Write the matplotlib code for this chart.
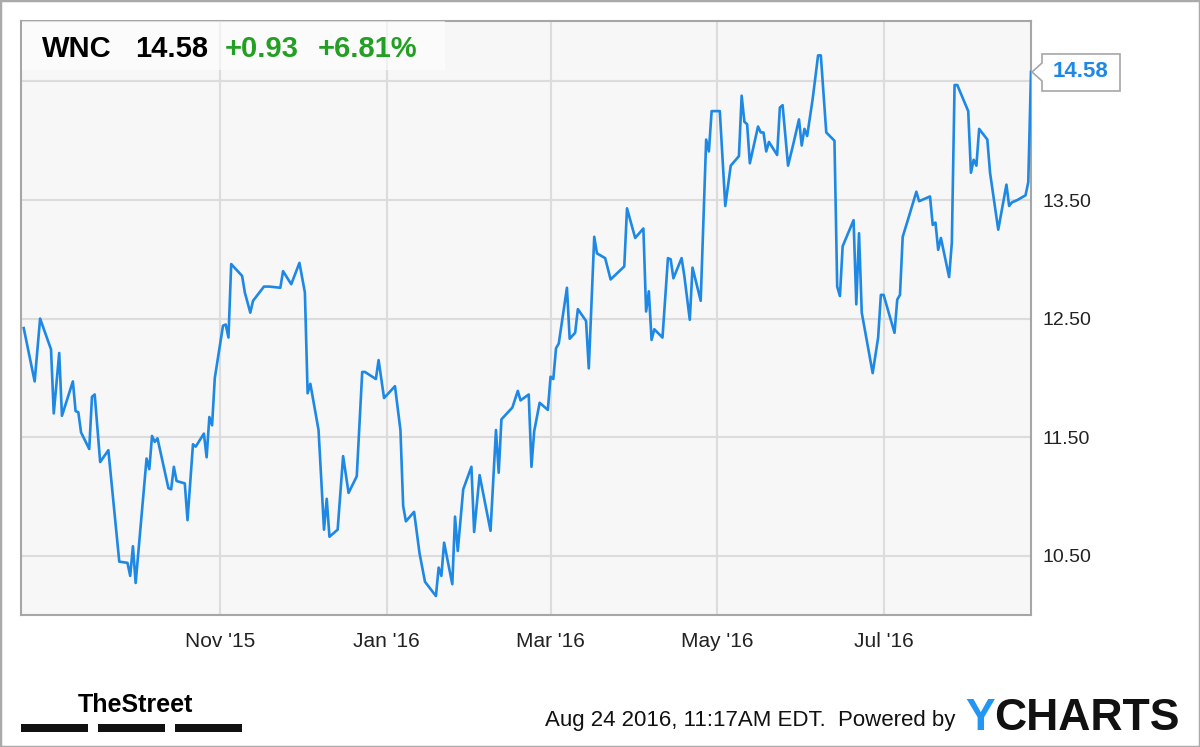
import matplotlib
matplotlib.use('Agg')
import matplotlib.pyplot as plt
import matplotlib.dates as mdates
import matplotlib.transforms as mtransforms
from matplotlib.patches import Polygon, Rectangle
import pandas as pd


TICKER = 'WNC'
LAST_PRICE = '14.58'
CHANGE = '+0.93'
CHANGE_PCT = '+6.81%'
STAMP = 'Aug 24 2016, 11:17AM EDT.  Powered by'

dates = [
    '2015-08-21', '2015-08-25', '2015-08-27', '2015-08-31', '2015-09-01', '2015-09-03',
    '2015-09-04', '2015-09-08', '2015-09-09', '2015-09-10', '2015-09-11', '2015-09-14',
    '2015-09-15', '2015-09-16', '2015-09-18', '2015-09-21', '2015-09-25', '2015-09-28',
    '2015-09-29', '2015-09-30', '2015-10-01', '2015-10-05', '2015-10-06', '2015-10-07',
    '2015-10-08', '2015-10-09', '2015-10-13', '2015-10-14', '2015-10-15', '2015-10-16',
    '2015-10-19', '2015-10-20', '2015-10-22', '2015-10-23', '2015-10-26', '2015-10-27',
    '2015-10-28', '2015-10-29', '2015-10-30', '2015-11-02', '2015-11-03', '2015-11-04',
    '2015-11-05', '2015-11-09', '2015-11-10', '2015-11-12', '2015-11-13', '2015-11-16',
    '2015-11-17', '2015-11-19', '2015-11-23', '2015-11-24', '2015-11-27', '2015-11-30',
    '2015-12-02', '2015-12-03', '2015-12-04', '2015-12-07', '2015-12-09', '2015-12-10',
    '2015-12-11', '2015-12-14', '2015-12-16', '2015-12-18', '2015-12-21', '2015-12-23',
    '2015-12-24', '2015-12-28', '2015-12-29', '2015-12-31', '2016-01-04', '2016-01-06',
    '2016-01-07', '2016-01-08', '2016-01-11', '2016-01-13', '2016-01-15', '2016-01-19',
    '2016-01-20', '2016-01-21', '2016-01-22', '2016-01-25', '2016-01-26', '2016-01-27',
    '2016-01-29', '2016-02-01', '2016-02-02', '2016-02-04', '2016-02-08', '2016-02-10',
    '2016-02-11', '2016-02-12', '2016-02-16', '2016-02-18', '2016-02-19', '2016-02-22',
    '2016-02-23', '2016-02-24', '2016-02-26', '2016-02-29', '2016-03-01', '2016-03-02',
    '2016-03-03', '2016-03-04', '2016-03-07', '2016-03-08', '2016-03-10', '2016-03-11',
    '2016-03-14', '2016-03-15', '2016-03-17', '2016-03-18', '2016-03-21', '2016-03-23',
    '2016-03-28', '2016-03-29', '2016-04-01', '2016-04-04', '2016-04-05', '2016-04-06',
    '2016-04-07', '2016-04-08', '2016-04-11', '2016-04-13', '2016-04-14', '2016-04-15',
    '2016-04-18', '2016-04-19', '2016-04-21', '2016-04-22', '2016-04-25', '2016-04-27',
    '2016-04-28', '2016-04-29', '2016-05-02', '2016-05-04', '2016-05-06', '2016-05-09',
    '2016-05-10', '2016-05-11', '2016-05-12', '2016-05-13', '2016-05-16', '2016-05-17',
    '2016-05-18', '2016-05-19', '2016-05-20', '2016-05-23', '2016-05-24', '2016-05-25',
    '2016-05-27', '2016-05-29', '2016-05-31', '2016-06-01', '2016-06-02', '2016-06-03',
    '2016-06-05', '2016-06-07', '2016-06-08', '2016-06-10', '2016-06-13', '2016-06-14',
    '2016-06-15', '2016-06-16', '2016-06-20', '2016-06-21', '2016-06-22', '2016-06-23',
    '2016-06-27', '2016-06-29', '2016-06-30', '2016-07-01', '2016-07-05', '2016-07-06',
    '2016-07-07', '2016-07-08', '2016-07-10', '2016-07-13', '2016-07-14', '2016-07-18',
    '2016-07-19', '2016-07-20', '2016-07-21', '2016-07-22', '2016-07-25', '2016-07-26',
    '2016-07-27', '2016-07-28', '2016-08-01', '2016-08-02', '2016-08-03', '2016-08-04',
    '2016-08-05', '2016-08-08', '2016-08-09', '2016-08-12', '2016-08-15', '2016-08-16',
    '2016-08-17', '2016-08-19', '2016-08-22', '2016-08-23', '2016-08-24',
]

prices = [
    12.42, 11.97, 12.50, 12.24, 11.70, 12.21,
    11.68, 11.97, 11.72, 11.71, 11.54, 11.40,
    11.84, 11.86, 11.29, 11.39, 10.45, 10.44,
    10.33, 10.58, 10.27, 11.32, 11.23, 11.51,
    11.46, 11.49, 11.07, 11.06, 11.25, 11.13,
    11.11, 10.80, 11.44, 11.42, 11.53, 11.33,
    11.67, 11.60, 12.00, 12.44, 12.45, 12.34,
    12.96, 12.86, 12.72, 12.55, 12.65, 12.74,
    12.77, 12.77, 12.76, 12.90, 12.79, 12.97,
    12.72, 11.87, 11.95, 11.56, 10.72, 10.98,
    10.66, 10.72, 11.34, 11.03, 11.17, 12.05,
    12.05, 11.99, 12.15, 11.83, 11.93, 11.56,
    10.92, 10.79, 10.87, 10.52, 10.28, 10.16,
    10.40, 10.33, 10.61, 10.26, 10.83, 10.54,
    11.06, 11.25, 10.70, 11.18, 10.71, 11.56,
    11.20, 11.65, 11.75, 11.89, 11.81, 11.86,
    11.25, 11.55, 11.79, 11.73, 12.01, 11.99,
    12.25, 12.29, 12.76, 12.33, 12.38, 12.58,
    12.48, 12.08, 13.19, 13.05, 13.01, 12.83,
    12.94, 13.43, 13.18, 13.26, 12.56, 12.73,
    12.32, 12.41, 12.34, 13.01, 13.00, 12.84,
    13.01, 12.86, 12.49, 12.93, 12.65, 14.01,
    13.91, 14.25, 14.25, 13.45, 13.79, 13.87,
    14.38, 14.16, 14.14, 13.81, 14.12, 14.07,
    14.07, 13.91, 13.99, 13.88, 14.28, 14.30,
    13.79, 13.98, 14.18, 13.96, 14.10, 14.04,
    14.35, 14.72, 14.72, 14.07, 14.00, 12.77,
    12.69, 13.11, 13.33, 12.62, 13.22, 12.55,
    12.04, 12.34, 12.70, 12.70, 12.38, 12.66,
    12.70, 13.19, 13.34, 13.57, 13.49, 13.53,
    13.29, 13.31, 13.08, 13.18, 12.85, 13.14,
    14.47, 14.47, 14.25, 13.73, 13.84, 13.79,
    14.10, 14.01, 13.73, 13.25, 13.63, 13.45,
    13.48, 13.50, 13.54, 13.65, 14.58,
]

y_ticks = [10.50, 11.50, 12.50, 13.50, 14.50]
# the 14.50 label sits under the last-price callout, so it is not shown
y_tick_labels = ['10.50', '11.50', '12.50', '13.50', '']
tick_months = [11, 1, 3, 5, 7]

W, H = 1200, 747
BLUE = '#1e88e5'
GREEN = '#23a023'
GRAY = '#a6a6a6'

plt.rcParams['font.family'] = ['Liberation Sans', 'DejaVu Sans']


def fx(px):
    return px / W


def fy(py):
    return 1 - py / H


fig = plt.figure(figsize=(W / 100, H / 100), dpi=100)
ax = fig.add_axes([fx(21), fy(615), fx(1031) - fx(21), fy(21) - fy(615)])

x = pd.to_datetime(dates)
ax.plot(x, prices, color=BLUE, lw=1.9, zorder=3)

ax.set_xlim(pd.Timestamp('2015-08-20'), pd.Timestamp('2016-08-24'))
ax.set_ylim(10.0, 15.01)
ax.set_facecolor('#f7f7f7')

ax.xaxis.set_major_locator(mdates.MonthLocator(bymonth=tick_months))
ax.xaxis.set_major_formatter(mdates.DateFormatter("%b '%y"))
ax.yaxis.tick_right()
ax.set_yticks(y_ticks, y_tick_labels)
ax.tick_params(length=0, colors='#222222')
ax.tick_params(axis='x', pad=12, labelsize=15)
ax.tick_params(axis='y', pad=8, labelsize=14)
ax.grid(color='#dcdcdc', lw=1.5)
ax.set_axisbelow(True)
for s in ax.spines.values():
    s.set_color(GRAY)
    s.set_linewidth(1.5)

# last price callout with a small notch pointing at the final point
trans = mtransforms.ScaledTranslation(mdates.date2num(x[-1]), prices[-1], ax.transData)
notch = [(1, 0), (11, 9), (11, 18), (89, 18), (89, -19), (11, -19), (11, -9)]
fig.add_artist(Polygon(notch, closed=True, transform=trans, fc='white',
                       ec=GRAY, lw=1.2, zorder=5))
fig.text(50, 0, LAST_PRICE, transform=trans, color=BLUE, fontsize=16,
         fontweight='bold', ha='center', va='center', zorder=6)

# header
fig.add_artist(Rectangle((fx(22), fy(70)), fx(445) - fx(22), fy(21) - fy(70),
                         transform=fig.transFigure, fc='white', alpha=0.6,
                         ec='none', zorder=4))
head = dict(fontsize=21, fontweight='bold', va='center', zorder=6)
fig.text(fx(42), fy(49), TICKER, color='black', **head)
fig.text(fx(135), fy(49), LAST_PRICE, color='black', **head)
fig.text(fx(225), fy(49), CHANGE, color=GREEN, **head)
fig.text(fx(318), fy(49), CHANGE_PCT, color=GREEN, **head)

# footer
fig.text(fx(78), fy(712), 'TheStreet', fontsize=18, fontweight='bold',
         va='baseline')
for left, right in [(21, 88), (98, 165), (175, 242)]:
    fig.add_artist(Rectangle((fx(left), fy(732)), fx(right) - fx(left), fy(724) - fy(732),
                             transform=fig.transFigure, fc='#111111', ec='none'))
fig.text(fx(545), fy(726), STAMP, fontsize=16, color='#111111', va='baseline')

logo_y = fig.text(fx(965), fy(730), 'Y', fontsize=32, fontweight='bold',
                  color='#2196f3', va='baseline')
y_box = logo_y.get_window_extent(renderer=fig.canvas.get_renderer())
fig.text(y_box.x1 / W, fy(730), 'CHARTS', fontsize=32, fontweight='bold',
         color='#111111', va='baseline')

fig.add_artist(Rectangle((0, 0), 1, 1, transform=fig.transFigure, fill=False,
                         ec='#aaaaaa', lw=2.5))

fig.savefig('out.png', dpi=100)
